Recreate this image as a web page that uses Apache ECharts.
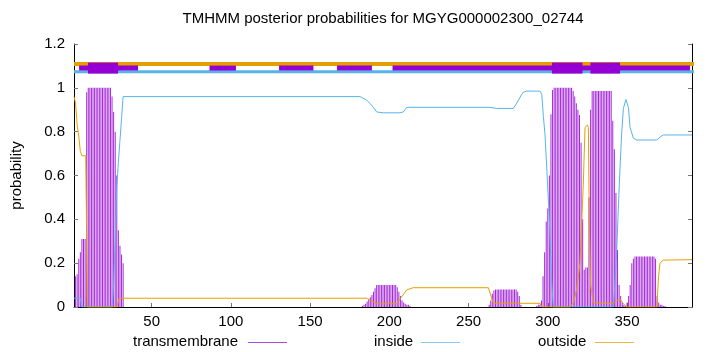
<!DOCTYPE html>
<html>
<head>
<meta charset="utf-8">
<script src="https://cdn.jsdelivr.net/npm/echarts@6/dist/echarts.min.js"></script>
<style>html,body{margin:0;padding:0;background:#fff}#c{width:720px;height:352px}</style>
</head>
<body>
<div id="c"></div>
<script>
// ---- data ----
const titleText = 'TMHMM posterior probabilities for MGYG000002300_02744';
const seriesNames = ['transmembrane', 'inside', 'outside'];
const xTicks = [50, 100, 150, 200, 250, 300, 350];

const tmRes = [2,3,4,5,6,7,8,9,10,11,12,13,14,15,16,17,18,19,20,21,22,23,24,25,26,27,28,29,30,31,32,
  183,184,185,186,187,188,189,190,191,192,193,194,195,196,197,198,199,200,201,202,203,204,205,206,207,208,209,210,211,212,213,
  263,264,265,266,267,268,269,270,271,272,273,274,275,276,277,278,279,280,281,282,283,
  293,294,295,296,297,298,299,300,301,302,303,304,305,306,307,308,309,310,311,312,313,314,315,316,317,318,319,320,321,322,323,324,325,326,327,
  328,329,330,331,332,333,334,335,336,337,338,339,340,341,342,343,344,345,346,347,348,349,
  350,351,352,353,354,355,356,357,358,359,360,361,362,363,364,365,366,367,368,369,370,371,372,373,374];
const tmProb = [0.14,0.15,0.22,0.25,0.31,0.31,0.31,0.98,1,1,1,1,1,1,1,1,1,1,1,1,1,1,1,0.96,0.89,0.8,0.6,0.35,0.28,0.24,0.2,
  0.005,0.01,0.015,0.025,0.035,0.045,0.055,0.07,0.085,0.1,0.1,0.1,0.1,0.1,0.1,0.1,0.1,0.1,0.1,0.1,0.1,0.1,0.09,0.07,0.05,0.03,0.02,0.015,0.01,0.01,0.005,
  0.01,0.03,0.06,0.075,0.08,0.08,0.08,0.08,0.08,0.08,0.08,0.08,0.08,0.08,0.08,0.08,0.08,0.08,0.07,0.05,0.01,
  0.005,0.01,0.01,0.03,0.14,0.25,0.39,0.45,0.6,0.88,0.99,1,1,1,1,1,1,1,1,1,1,1,1,0.985,0.96,0.93,0.9,0.876,0.75,0.4,0.17,0.18,0.18,0.5,0.9,
  0.985,0.985,0.985,0.985,0.985,0.985,0.985,0.985,0.985,0.985,0.985,0.985,0.985,0.85,0.72,0.52,0.26,0.1,0.05,0.02,0.01,0.005,
  0.02,0.05,0.1,0.2,0.22,0.23,0.23,0.23,0.23,0.23,0.23,0.23,0.23,0.23,0.23,0.23,0.23,0.23,0.22,0.05,0.02,0.01,0.01,0.005,0.005];

const insideRes = [1,5,6,25,26,27,28,29,30,31,32,181.5,185.7,188.9,192,196.2,206.7,208.8,211,263.5,267.7,278.2,280.4,283.5,284.5,286.7,295.1,296.2,297.2,298.2,299.3,300.9,302.5,303.5,
  341.3,342.3,343.5,344.5,345.6,346.6,347.7,349.3,350.9,351.9,354,356.1,368.8,370.8,372.9,391];
const insideProb = [0.04,0.04,0,0,0.1,0.3,0.55,0.66,0.76,0.86,0.96,0.96,0.944,0.92,0.89,0.886,0.886,0.89,0.911,0.911,0.906,0.906,0.93,0.97,0.98,0.985,0.985,0.97,0.87,0.79,0.64,0.41,0.11,0,
  0,0.1,0.26,0.45,0.64,0.79,0.906,0.947,0.91,0.82,0.77,0.762,0.762,0.775,0.785,0.785];

const outsideRes = [1,2,3,4,5,6,8.4,9.5,28,29.5,185.7,192,204.6,211,215,262.5,265.6,295.1,296.2,314,316.2,318.2,320.3,322.4,323.5,325,325.6,326.2,327,328.7,329.7,341.3,343.5,345.6,347.7,349.8,368.8,369.9,370.8,372.9,391];
const outsideProb = [0.96,0.93,0.83,0.78,0.71,0.69,0.69,0,0,0.04,0.04,0.015,0.015,0.078,0.088,0.088,0.017,0.017,0,0,0.02,0.08,0.2,0.56,0.82,0.83,0.82,0.4,0.1,0.02,0.015,0.015,0.03,0.035,0.015,0,0,0.14,0.2,0.214,0.216];

// top annotation tracks (residue ranges)
const outsideTrack = [[1, 409]];
const insideTrack = [[1, 395.4]];
const tmThinTrack = [[4.2, 41.4], [86.5, 103.2], [130.4, 152.1], [167, 189], [202, 389.7]];
const tmThickTrack = [[9.8, 28.8], [302.6, 321.9], [326.9, 345.6]];
const trackLevels = { outside: 1.109, inside: 1.073, tm: 1.09 };

// ---- chart ----
const FONT = 'Liberation Sans';
const PURPLE = '#9400D3', BLUE = '#56B4E9', ORANGE = '#E69F00';
const LEGEND_COLORS = ['#A848DE', '#8ECAEF', '#EEB444'];
const LEGEND_TEXT_LEFT = [133, 374, 538];
const LEGEND_LINE_X = [[248, 287], [421, 460], [595, 634]];
const zip = (a, b) => a.map((v, i) => [v, b[i]]);

function track(segs, level, color, width, z) {
  return segs.map(s => ({
    type: 'line', data: [[s[0], level], [s[1], level]], symbol: 'none', clip: false, silent: true,
    lineStyle: { color: color, width: width, cap: 'butt' }, z: z, animation: false
  }));
}

const chart = echarts.init(document.getElementById('c'), null, { renderer: 'canvas' });
function legendFor(i) {
  return {
    align: 'right', icon: 'rect', itemWidth: 39, itemHeight: 1, top: 334, padding: 0, left: LEGEND_TEXT_LEFT[i],
    itemStyle: { opacity: 0 }, lineStyle: { opacity: 0 },
    data: [seriesNames[i]], selectedMode: false,
    textStyle: { fontFamily: FONT, fontSize: 15, color: '#000', padding: [0, 4, 0, 0] }
  };
}
const legendLines = LEGEND_LINE_X.map((p, i) => ({
  type: 'line', silent: true, z: 100,
  shape: { x1: p[0], y1: 342.5, x2: p[1], y2: 342.5 },
  style: { stroke: LEGEND_COLORS[i], lineWidth: 1 }
}));
chart.setOption({
  animation: false,
  backgroundColor: '#fff',
  textStyle: { fontFamily: FONT },
  grid: { left: 74, right: 28, top: 44, bottom: 45 },
  graphic: [{
    type: 'text', x: 383, y: 19,
    style: { text: titleText, font: '15px "Liberation Sans"', fill: '#000', align: 'center', verticalAlign: 'middle' }
  }].concat(legendLines),
  legend: [legendFor(0), legendFor(1), legendFor(2)],
  xAxis: {
    type: 'value', min: 1, max: 391,
    axisLine: { show: true, onZero: false, lineStyle: { color: '#000', width: 1 } },
    axisTick: { show: true, inside: true, length: 4, customValues: xTicks, lineStyle: { color: '#777' } },
    axisLabel: { customValues: xTicks, fontFamily: FONT, fontSize: 15, color: '#000', margin: 7 },
    splitLine: { show: false }
  },
  yAxis: [{
    type: 'value', min: 0, max: 1.2, interval: 0.2,
    name: 'probability', nameLocation: 'middle', nameGap: 50,
    nameTextStyle: { fontFamily: FONT, fontSize: 15, color: '#000' },
    axisLine: { show: true, lineStyle: { color: '#000', width: 1 } },
    axisTick: { show: true, inside: true, length: 4, lineStyle: { color: '#777' } },
    axisLabel: { fontFamily: FONT, fontSize: 15, color: '#000', margin: 9 },
    splitLine: { show: false }
  }, {
    type: 'value', min: 0, max: 1.2, interval: 0.2, position: 'right',
    axisLine: { show: true, lineStyle: { color: '#000', width: 1 } },
    axisTick: { show: true, inside: true, length: 4, lineStyle: { color: '#777' } },
    axisLabel: { show: false },
    splitLine: { show: false }
  }],
  series: [
    { name: seriesNames[0], type: 'bar', data: zip(tmRes, tmProb), barWidth: 1, color: PURPLE,
      itemStyle: { color: PURPLE, opacity: 0.85 }, z: 2 },
    { name: seriesNames[1], type: 'line', data: zip(insideRes, insideProb), symbol: 'none', color: BLUE,
      itemStyle: { color: BLUE }, lineStyle: { color: BLUE, width: 1 }, z: 3 },
    { name: seriesNames[2], type: 'line', data: zip(outsideRes, outsideProb), symbol: 'none', color: ORANGE,
      itemStyle: { color: ORANGE }, lineStyle: { color: ORANGE, width: 1 }, z: 4 }
  ].concat(
    track(outsideTrack, trackLevels.outside, ORANGE, 4, 5),
    track(insideTrack, trackLevels.inside, BLUE, 3, 5),
    track(tmThinTrack, trackLevels.tm, PURPLE, 5, 6),
    track(tmThickTrack, trackLevels.tm, PURPLE, 11, 7)
  )
});
</script>
</body>
</html>
